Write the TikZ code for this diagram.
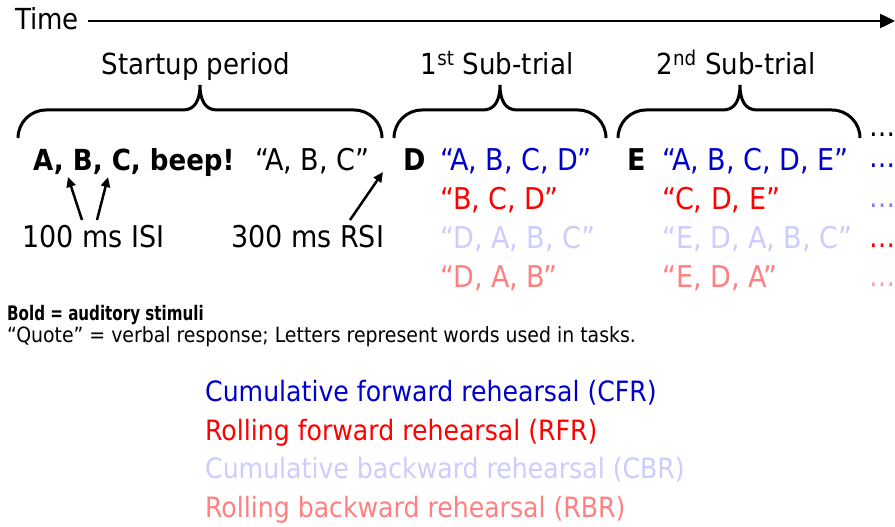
\documentclass[tikz,border=0pt]{standalone}
\usepackage{fontspec}
\setmainfont{DejaVu Sans Condensed}
\usetikzlibrary{arrows.meta}
\definecolor{cfr}{HTML}{0000CC}
\definecolor{rfr}{HTML}{FF0000}
\definecolor{cbr}{HTML}{CCCCFF}
\definecolor{rbr}{HTML}{FF8080}
\definecolor{dotb}{HTML}{8080FF}
\definecolor{dotr}{HTML}{FFA0A0}
\begin{document}
\begin{tikzpicture}[x=1pt,y=-1pt,
 txt/.style={anchor=base west,inner sep=0pt,font=\fontsize{30}{36}\selectfont},
 btxt/.style={txt,font=\fontsize{30}{36}\selectfont\bfseries},
 head/.style={anchor=base,inner sep=0pt,font=\fontsize{29}{35}\selectfont},
 note/.style={anchor=base west,inner sep=0pt,font=\fontsize{21}{25}\selectfont},
 leg/.style={anchor=base west,inner sep=0pt,font=\fontsize{28}{33}\selectfont},
 bracepath/.style={line width=3pt},
 ptr/.style={line width=2.5pt,-{Triangle[length=10pt,width=9pt]}},
]
\useasboundingbox (0,0) rectangle (895,527);

% Time axis
\node[txt,font=\fontsize{29}{35}\selectfont] (time) at (15,30) {Time};
\coordinate (tstart) at (88,21);
\coordinate (tend) at (895,21);
\draw[line width=2.5pt,-{Triangle[length=15pt,width=14pt]}] (tstart) -- (tend);

% headings
\node[head] (startup) at (196,75) {Startup period};
\node[head] (sub1) at (497,75) {1\textsuperscript{st} Sub-trial};
\node[head] (sub2) at (736,75) {2\textsuperscript{nd} Sub-trial};

% braces
\foreach \xa/\xm/\xb in {18/200/382, 394/500/606, 618/740/860}{
  \draw[bracepath] (\xa,138) .. controls (\xa,122.5) and (\xa+12.5,110) .. (\xa+28,110)
    -- (\xm-17,110) .. controls (\xm-5,110) and (\xm,100) .. (\xm,85)
    .. controls (\xm,100) and (\xm+5,110) .. (\xm+17,110)
    -- (\xb-28,110) .. controls (\xb-12.5,110) and (\xb,122.5) .. (\xb,138);
}
\node[txt,font=\fontsize{29}{35}\selectfont] (topdots) at (869,136) {…};

% row 1
\node[btxt,font=\fontsize{29}{35}\selectfont\bfseries] (abc) at (33,170) {A, B, C, beep!};
\node[txt] (abcq) at (255,170) {“A, B, C”};
\node[btxt] (dd) at (403,170) {D};
\node[btxt] (ee) at (627,170) {E};

% column 1
\node[txt,text=cfr] (c1a) at (440,170) {“A, B, C, D”};
\node[txt,text=rfr] (c1b) at (440,209) {“B, C, D”};
\node[txt,text=cbr] (c1c) at (440,248) {“D, A, B, C”};
\node[txt,text=rbr] (c1d) at (440,287) {“D, A, B”};
% column 2
\node[txt,text=cfr] (c2a) at (662,170) {“A, B, C, D, E”};
\node[txt,text=rfr] (c2b) at (662,209) {“C, D, E”};
\node[txt,text=cbr] (c2c) at (662,248) {“E, D, A, B, C”};
\node[txt,text=rbr] (c2d) at (662,287) {“E, D, A”};
% dots
\node[txt,font=\fontsize{29}{35}\selectfont,text=cfr] (d1) at (869,167) {…};
\node[txt,font=\fontsize{29}{35}\selectfont,text=dotb] (d2) at (869,207) {…};
\node[txt,font=\fontsize{29}{35}\selectfont,text=rfr] (d3) at (869,247) {…};
\node[txt,font=\fontsize{29}{35}\selectfont,text=dotr] (d4) at (869,286) {…};

% interval labels
\node[txt] (isi) at (22,247) {100 ms ISI};
\node[txt] (rsi) at (231,247) {300 ms RSI};
\coordinate (p1s) at (82,220); \coordinate (p1e) at (68,177);
\coordinate (p2s) at (97,220); \coordinate (p2e) at (108,177);
\coordinate (p3s) at (350,220); \coordinate (p3e) at (383,172);
\draw[ptr] (p1s) -- (p1e);
\draw[ptr] (p2s) -- (p2e);
\draw[ptr] (p3s) -- (p3e);

% notes
\node[note,font=\fontsize{20}{24}\selectfont\bfseries] (n1) at (7,320) {\scalebox{0.84}[1]{Bold = auditory stimuli}};
\node[note] (n2) at (7,342) {“Quote” = verbal response; Letters represent words used in tasks.};

% legend
\node[leg,text=cfr] (l1) at (205,401) {Cumulative forward rehearsal (CFR)};
\node[leg,text=rfr] (l2) at (205,440) {Rolling forward rehearsal (RFR)};
\node[leg,text=cbr] (l3) at (205,478) {Cumulative backward rehearsal (CBR)};
\node[leg,text=rbr] (l4) at (205,517) {Rolling backward rehearsal (RBR)};
\end{tikzpicture}
\end{document}
